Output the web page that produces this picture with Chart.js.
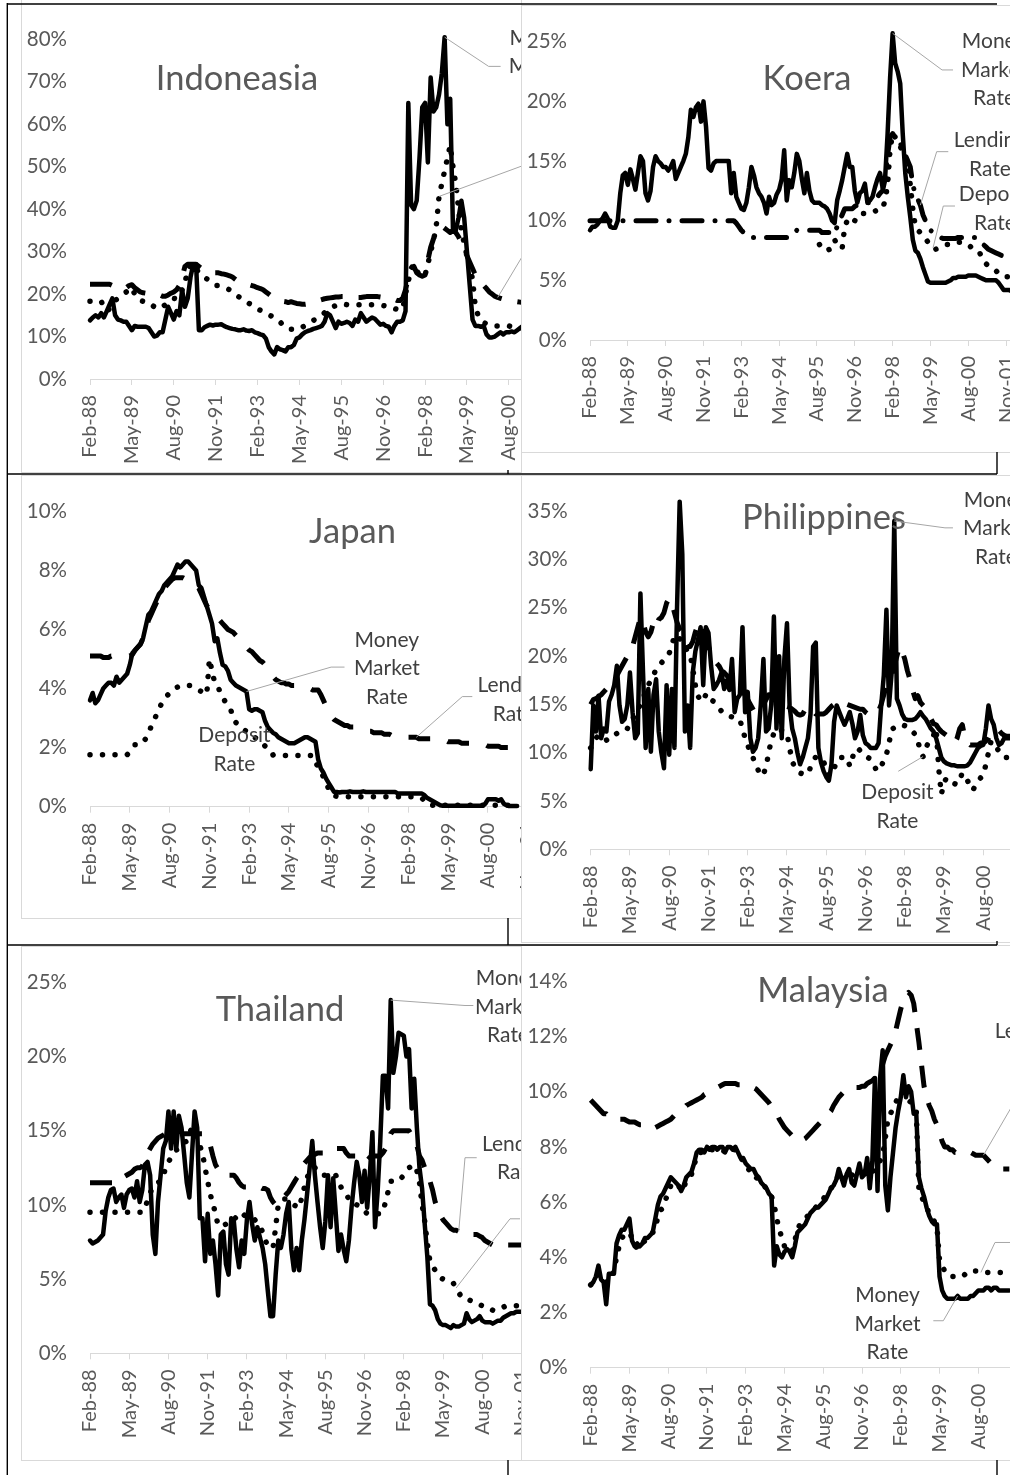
<!DOCTYPE html>
<html>
<head>
<meta charset="utf-8">
<title>Interest rates</title>
<script src="https://cdn.jsdelivr.net/npm/chart.js@4.4.1/dist/chart.umd.min.js"></script>
<style>
  html, body { margin: 0; padding: 0; background: #fff; overflow: hidden; }
  body { position: relative; width: 1010px; height: 1475px; }
  .panel { position: absolute; box-sizing: border-box; border: 1px solid #d9d9d9; background: #fff; overflow: hidden; }
  .panel canvas { position: absolute; }
  #frame { position: absolute; left: 0; top: 0; z-index: 10; pointer-events: none; }
</style>
</head>
<body>
<div class="panel" id="p-idn"><canvas id="c-idn"></canvas></div>
<div class="panel" id="p-kor"><canvas id="c-kor"></canvas></div>
<div class="panel" id="p-jpn"><canvas id="c-jpn"></canvas></div>
<div class="panel" id="p-phl"><canvas id="c-phl"></canvas></div>
<div class="panel" id="p-tha"><canvas id="c-tha"></canvas></div>
<div class="panel" id="p-mys"><canvas id="c-mys"></canvas></div>
<canvas id="frame" width="1010" height="1475"></canvas>
<script>
// ---- categories: monthly observations starting Feb-88, a tick label every 15 months ----
const MONTH_NAMES = ['Jan','Feb','Mar','Apr','May','Jun','Jul','Aug','Sep','Oct','Nov','Dec'];
const TICK_EVERY = 15;
function monthLabels(count) {
  const out = [];
  for (let k = 0; k < count; k++) {
    const m = (1 + k) % 12;
    const y = (88 + Math.floor((1 + k) / 12)) % 100;
    out.push(MONTH_NAMES[m] + '-' + String(y).padStart(2, '0'));
  }
  return out;
}
const SERIES_NAMES = ['Money Market Rate', 'Deposit Rate', 'Lending Rate'];

// ---- Indonesia (%) ----
const IDN_MMR = [13.8,14.5,15,14.5,15.5,14.5,16,17.5,19,15, 14,13.8,13.5,13.5,12.5,11.5,12.5,12.3,12.3,12.3,
  12.3,12,11,10,10.2,11,11,14,17,15.5, 14,16,15,21,17,19,24,27,27,11.5, 11.5,12.2,12.5,12.8,12.6,12.8,12.8,12.9,12.5,12.2,
  12,11.8,11.7,11.5,11.5,11.7,11.4,11.3,11.5,11, 10.8,10.5,10.3,9.5,7.5,6.5,5.8,7.5,7,6.8, 6.5,7.5,7.5,8,9.5,9.8,10.5,11,11.3,11.5,
  11.8,12,12.2,12.5,13.5,15.5,15,13.5,12,13.5, 13,13.2,13.5,13.2,12.5,14,13.5,15.5,14.5,13.5, 14,14.5,14.2,13.5,12.8,13,12.5,12.3,11,12.5,
  13.5,13.5,13.8,16,65,41,40,42,52,64, 65,51,71,63,64,67,72,80.5,60,66, 35,35,38,42,38,30,22,14,12.5,12.5,
  12.3,12.5,10.5,9.8,9.8,10,10.5,11,10.5,11, 11,11.2,11,11.5,12,12.5];
const IDN_DEP = [18.3,18.3,18.3,18.3,18.3,17,16,16.5,17.5,18.5, 19,19.5,20,20.5,21,21.5,20,19,18.5,18.3,
  18,18,17.5,17,16.6,16.6,17,17.5,18,18.5, 19,18.9,19.5,21,23,25,27,27,26,25, 24.5,24,23.5,23,22.5,22,22,21.8,21.5,21.3,
  21,20.5,20,19.5,19,18.5,18.3,17.8,17.3,16.8, 16.5,16.2,15.8,15.5,15.2,14.8,14.5,14,13.5,12.8, 12.2,11.8,11.7,11.7,11.7,11.8,12.2,12.6,13,13.4,
  13.8,14.2,14.6,15,15.6,16.2,16.6,17,17.3,17.6, 17.7,17.6,17.5,17.4,17.4,17.4,17.5,17.5,17.5,17.5, 17.5,17.5,17.5,17.4,17.3,17.3,17.2,17.2,17,16.6,
  16.4,16.3,16.5,20,23,26,27,25.5,24.5,24, 24.5,27,30,32.5,36,43,46,49,52,55, 50,46,40,35,32,29,26.5,23.5,17,15,
  14,13.3,13,12.8,12.5,12.5,12.5,12.5,12.5,12.5, 12.5,12.3,12.2,12,12,12];
const IDN_LEND = [22.3,22.3,22.3,22.3,22.3,22.3,22.3,22.3,22,22, 22,21.5,21.5,21.5,22,22.2,21.5,21,20.5,20.3,
  20.2,20,20,20,20,19.8,19.5,19.5,19.8,20.2, 20.5,21,22,24,26.5,27,27,27,27,26.5, 26,25.5,25.3,25.2,25,25,25,24.8,24.7,24.5,
  24.3,24,23.5,23,22.7,22.5,22.3,22.2,22,21.8, 21.5,21.3,21,20.5,20,19.5,19,18.8,18.5,18.3, 18.2,18,18.2,18,17.8,17.7,17.6,17.6,17.7,17.8,
  18,18.2,18.5,18.7,18.9,19,19.1,19.2,19.3,19.3, 19.4,19.4,19.4,19.3,19.2,19.2,19.2,19.2,19.3,19.4, 19.4,19.4,19.4,19.4,19.3,19.2,19.2,19.2,19,18.8,
  18.5,18.5,19,21,24,26,26.5,25,24.5,24.2, 24.5,28,31,33,34.5,35.5,36,35.5,35,34.5, 35,34.5,33.5,32,30.5,29,27.5,26,24.5,23.5,
  22.5,22,21.3,20.5,20,19.5,19.2,19,18.8,18.6, 18.5,18.4,18.3,18.2,18.1,18];

// ---- Korea (%) ----
const KOR_MMR = [9.2,9.5,9.5,9.7,10,10.2,10.6,10.2,9.5,9.4, 9.4,10,12.3,13.8,14,13,14.3,13.5,12.6,14,
  15.4,15,12.3,11.7,12.5,14.5,15.4,15,14.8,14.5, 14.5,14.2,14.5,15,13.5,14,14.5,15,15.6,17, 19.3,18.7,19.5,19.8,18.3,20,17.9,14.4,14.2,14.8,
  15,15,15,15,15,15,12.3,14,12,11.5, 11,10.9,11.5,12.8,14.5,13.8,12.8,12.3,12,11.5, 10.6,12,11.3,11.5,12.2,12.6,13.5,15.9,11.7,13.4,
  12.8,14,15.6,15,13.5,12.3,14,12.5,11.7,11.5, 11.5,11.5,11.3,11.2,11,10.6,10,9.8,11.7,12.5, 13.4,14.5,15.6,14.5,14.5,12.5,11.5,12.3,12.5,13.1,
  11.5,11.7,12,12.8,13.5,14,12.8,13.5,17.3,22, 25.7,23.2,22.5,21.5,17.3,14,12,10.3,8.4,7.5, 7.3,6.8,6.1,5.5,4.9,4.8,4.8,4.8,4.8,4.8,
  4.8,4.8,4.9,5,5.2,5.2,5.3,5.3,5.3,5.3, 5.4,5.4,5.4,5.4,5.3,5.2,5.1,5,5,5, 5,5,4.8,4.5,4.2,4.2,4.2,4.1];
const KOR_DEP = [...new Array(91).fill(null),
  8,7.7,7.5,7.5,7.6,8,8.4,8,7.7, 7.7,9.5,10,10.2,9.9,10,10.4,10.6,10.6,10.6,
  10.6,10.7,10.8,10.8,10.9,10.9,11,11.7,13,16, 17.3,17,16.5,16.2,15.8,15.3,15,13,11,9.5, 9.2,9,8.8,8.5,8.2,7.8,7.7,7.6,7.7,7.8,
  7.9,8,8,8.1,8.2,8.2,8.2,8.2,8.2,8.1, 8,7.8,7.7,7.6,7.5,7.1,6.6,6.4,6.2,6.1, 6,5.8,5.6,5.4,5.3,5.3,5.3,5.3];
const KOR_LEND = [10,10,10,10,10,10,10,10,10,10, 10,10,10,10,10,10,10,10,10,10,
  10,10,10,10,10,10,10,10,10,10, 10,10,10,10,10,10,10,10,10,10, 10,10,10,10,10,10,10,10,10,10,
  10,10,10,10,10,10,10,10,9.8,9.5, 9.2,9,8.8,8.6,8.6,8.6,8.6,8.6,8.6,8.6, 8.6,8.6,8.6,8.6,8.6,8.6,8.6,8.6,8.6,8.6,
  8.8,9,9.2,9.2,9.2,9.2,9.2,9.2,9.2,9.2, 9.2,9.2,9,9,9,9,8.8,9,9.5,10, 10.5,11,11,11,11,11.2,11.3,11.3,11.3,11.4,
  11.5,11.5,11.6,11.8,12,12.3,12.5,13.5,15.5,17, 17.3,17,16.8,16.5,16,15.5,15,14.5,13,12.2, 11.8,11.3,10.5,10,9.5,9.2,9,8.8,8.7,8.6,
  8.5,8.5,8.5,8.5,8.5,8.5,8.6,8.6,8.6,8.6, 8.6,8.6,8.6,8.6,8.5,8.3,8,7.8,7.6,7.5, 7.4,7.3,7.2,7.1,7,7,7,6.9];

// ---- Japan (%) ----
const JPN_MMR = [3.6,3.85,3.5,3.6,3.8,4,4.1,4.2,4.2,4.1, 4.4,4.2,4.3,4.4,4.5,4.8,5.2,5.3,5.4,5.5,
  5.7,6.1,6.5,6.6,6.8,7,7.2,7.3,7.5,7.6, 7.7,7.8,8,8.2,8.1,8.2,8.3,8.3,8.2,8.1, 8,7.5,7.4,7.1,6.8,6.5,6.2,5.6,5.7,5.2,
  4.8,4.75,4.6,4.3,4.2,4.1,4.05,4,3.95,3.9, 3.3,3.25,3.3,3.3,3.25,3.2,2.9,2.7,2.6,2.5, 2.45,2.35,2.3,2.25,2.2,2.15,2.15,2.15,2.2,2.25,
  2.3,2.35,2.35,2.3,2.25,2.2,1.6,1.3,1.15,0.95, 0.8,0.65,0.5,0.5,0.48,0.5,0.5,0.5,0.52,0.5, 0.5,0.5,0.5,0.52,0.5,0.5,0.5,0.5,0.5,0.5,
  0.5,0.5,0.5,0.5,0.5,0.5,0.45,0.45,0.45,0.45, 0.45,0.45,0.45,0.45,0.45,0.45,0.4,0.3,0.25,0.2, 0.15,0.1,0.05,0.03,0.03,0.03,0.03,0.03,0.03,0.03,
  0.03,0.03,0.03,0.03,0.03,0.03,0.03,0.03,0.03,0.1, 0.25,0.25,0.25,0.25,0.2,0.25,0.1,0.05,0.02,0.02, 0.02,0.02];
const JPN_DEP = [1.76,1.76,1.76,1.76,1.76,1.76,1.76,1.76,1.76,1.76, 1.76,1.76,1.76,1.76,1.76,1.85,2,2.1,2.1,2.1,
  2.2,2.3,2.5,2.7,2.9,3.1,3.3,3.5,3.65,3.75, 3.85,3.95,4,4.05,4.1,4.1,4.1,4.1,4.1,4.05, 4,3.95,3.9,3.85,3.8,5,4.6,4.2,4.1,3.9,
  3.7,3.55,3.4,3.3,3,2.85,2.75,2.7,2.6,2.55, 2.5,2.45,2.35,2.3,2.25,2.15,2.05,2,1.9,1.75, 1.73,1.73,1.73,1.73,1.73,1.73,1.73,1.73,1.73,1.73,
  1.73,1.73,1.73,1.73,1.73,1.5,1.35,1.2,1,0.8, 0.6,0.45,0.37,0.35,0.34,0.34,0.34,0.34,0.34,0.34, 0.34,0.34,0.34,0.34,0.34,0.34,0.34,0.34,0.34,0.34,
  0.34,0.34,0.34,0.34,0.34,0.34,0.34,0.34,0.34,0.34, 0.34,0.34,0.34,0.34,0.34,0.3,0.2,0.1,0.05,0.05, 0.05,0.05,0.05,0.05,0.05,0.05,0.05,0.05,0.05,0.05,
  0.05,0.05,0.05,0.05,0.05,0.05,0.05,0.05,0.05,0.05, 0.05,0.05,0.05,0.05,0.05,0.05,0.05,0.05,0.05,0.05, 0.05,0.05];
const JPN_LEND = [5.1,5.1,5.1,5.1,5.1,5.05,5.05,5.05,5.1,5.1, 5.1,5.1,5.1,5.1,5.1,5.1,5.15,5.3,5.4,5.5,
  5.7,6,6.3,6.5,6.7,6.9,7.1,7.2,7.4,7.5, 7.6,7.7,7.75,7.75,7.75,7.75,7.7,7.7,7.65,7.6, 7.5,7.4,7.2,7,6.8,6.7,6.6,6.5,6.4,6.3,
  6.2,6.1,6,5.95,5.9,5.8,5.7,5.6,5.5,5.4, 5.3,5.25,5.15,5.05,4.95,4.9,4.8,4.6,4.5,4.4, 4.3,4.25,4.2,4.2,4.15,4.15,4.1,4.1,4.05,4,
  4,4,4,4,3.95,3.95,3.95,3.8,3.6,3.4, 3.2,3.05,2.95,2.9,2.85,2.8,2.75,2.75,2.7,2.7, 2.7,2.65,2.65,2.6,2.6,2.55,2.55,2.5,2.5,2.5,
  2.5,2.45,2.45,2.45,2.4,2.4,2.4,2.35,2.35,2.35, 2.35,2.35,2.35,2.35,2.3,2.3,2.3,2.3,2.3,2.3, 2.3,2.25,2.25,2.25,2.25,2.2,2.2,2.2,2.2,2.2,
  2.15,2.15,2.15,2.15,2.15,2.1,2.1,2.1,2.1,2.1, 2.05,2.05,2.05,2.05,2.05,2,2,2,2,2, 2,2];

// ---- Philippines (%) ----
const PHL_MMR = [8.3,14.9,12.2,15.9,11.5,12.5,12.2,15.3,16,17, 19,14.9,13.2,13.5,14.9,18.3,14.2,11.5,12,26.5,
  18.3,10.5,16.6,10.1,16,17.6,12.2,10,8.4,17, 9.8,16.6,10.5,25.1,36,30.6,12.2,14.9,10.5,18.3, 20.5,21.7,23,17,23,22.4,19,16.6,17,17.5,
  18.3,16.6,17.5,16.5,19.7,14.2,15.6,16,23,14.2, 16.3,11.5,10.1,10.5,11.5,15,19.7,12.2,12.5,15, 24.1,12.5,20,11.5,19.7,23.4,14.9,12.5,11.5,10,
  8.8,9.5,10.5,11.5,14,21,21.4,10.5,9,8.1, 7.5,7.1,8.8,13.2,14.9,14.2,13.5,12.9,13.5,14.2, 13,11.5,12.2,13.9,11.8,11,10.8,10.5,10.5,10.5,
  11,14.9,18,24.8,14.9,18.3,34,15.6,14.9,14, 13.5,13.4,13.4,13.4,13.5,13.8,14.2,13.8,13.5,13, 12.5,12.2,11.5,10.5,9.5,9.1,8.9,8.8,8.7,8.7,
  8.6,8.6,8.6,8.6,8.7,9,9.5,10,10.5,10.7, 10.8,12.5,14.9,13.5,12.9,11.5,10.8,11,11.5,11.5, 11.5,11.5,11.5];
const PHL_DEP = [10.5,10.8,11.5,11.8,11.5,11.5,11.3,11.5,11.5,11.8, 12,12.2,12.3,12.5,12.5,13,13.5,14,14.5,15,
  15.5,16.5,17,17.5,18,18.7,19,19.3,19.6,19.8, 20.3,21,22.2,22,21.8,21.5,21,20.5,20.2,18.7, 17,15.9,15.3,15.5,16,16.1,15.5,15.3,14.9,14.6,
  14.3,14,13.9,13.8,13.7,13.6,13.5,13.4,12.5,11.5, 10.8,10,9.5,8.8,8.2,7.6,7.8,8.5,10,11.3, 12,12.5,12.4,12.3,12.1,12,10.5,9.1,8.5,8.2,
  7.9,7.8,7.8,7.8,8.5,9,9.6,9.6,9.4,9.1, 8.3,7.6,7.8,8.4,9,9.5,9.5,9.5,9.5,8.6, 9.5,10.2,10.5,10.2,9.9,9.8,9.5,9.3,8.8,8.3,
  8.1,8.6,9.2,9.8,11,12.4,12.6,12.8,12.9,12.9, 12.8,12.6,12.5,12.2,11.9,11.2,10.2,9.6,10.5,11, 11.6,11.8,12.5,8.3,5.7,6.9,7.4,7.2,7,6.8,
  6.7,7.2,7.9,7.5,7.1,6.6,6.1,6.6,7.1,7.4, 7.6,8.8,10,11.2,11,10.5,10.2,9.8,9.5,9.5, 9.3,9.2,9.2];
const PHL_LEND = [15,15.5,15.6,15.8,16,16.3,16.6,16.8,17,17.5, 18,18.5,19,19.5,20,20.5,21,22,23,24,
  23.5,22.5,22,22.5,23.5,23,23.8,24,24.5,25.5, 26,25.5,24.5,23.5,22.8,22.5,22,21,21,21.5, 22.5,23.3,23.5,22.5,21.5,21,20,19.5,19.3,19,
  18.5,18.3,18,17.7,17.5,17.2,17,16.6,16.3,16, 15.5,15,14.5,14,14,14.5,15,15.5,16,16, 15.5,15,15,15,14.9,14.8,14.7,14.5,14.3,14,
  13.9,14,14.5,14.8,14.5,14.3,14,14,14,14, 14.2,14.5,14.8,15,15.2,15.3,15.2,15,15,14.9, 14.8,14.7,14.6,14.5,14.5,14.2,14,14,13.9,14,
  14.3,15,16,17,17.5,18,19,20,21,20.5, 19.7,18.5,17.6,16.5,15.6,15.9,15.2,14.9,14.6,14, 13.5,13,12.9,12.5,12.2,12,11.8,11.5,11.2,11,
  11.5,12.5,12.9,11.5,11,10.8,10.8,10.8,10.8,11, 11,11.2,11.5,12,12.3,12.5,12.3,12,11.8,11.7, 11.7,11.7,11.7];

// ---- Thailand (%) ----
const THA_MMR = [7.6,7.4,7.5,7.6,7.8,8,9.6,10.5,11,11.1, 10.2,10.5,10.7,9.8,10.7,11,11.1,10.5,11.6,10.2,
  11,12.7,12.9,12,8,6.7,10.2,12,13.8,14.3, 16.3,13.8,16.3,13.8,16,15.2,13.4,11.5,10.5,13.4, 16.3,15.2,9.1,9.1,6.2,9.4,6.7,7.6,6,3.9,
  8,8.2,6,5.3,9.1,8.9,7,5.8,7.6,6.7, 9,10.2,8.7,7.6,8.5,7.8,7.1,6,4.2,2.5, 2.5,5.3,7.6,7.1,8,9.4,10.2,7,5.6,7.1,
  5.6,7.6,9,10.7,12.5,14.3,12,10.2,8.5,7.1, 8.9,12,8.5,11.8,9.4,6.9,8,7,6.2,7.6, 9.8,11.5,12.9,12,10.2,12.3,9.8,12,14.9,8.5,
  10.9,14.3,18.7,18.7,16.5,23.8,18.9,20,21.6,21.5, 21.4,20,20.5,16.5,18.5,15.2,12.5,11.1,8.7,6.5, 3.3,3.2,2.9,2.3,2,1.9,1.9,1.8,1.7,1.9,
  1.8,1.8,1.9,2,2.7,2.3,2.1,2.2,2.3,2.5, 2.2,2.1,2.1,2.1,2,2.1,2.2,2.2,2.4,2.5, 2.6,2.7,2.7,2.8,2.8,2.8,2.8];
const THA_DEP = [9.5,9.5,9.5,9.5,9.5,9.5,9.5,9.5,9.5,9.5, 9.5,9.5,9.5,9.5,9.5,9.5,9.5,9.5,9.5,9.5,
  9.5,9.8,10.3,10.8,11.2,11.4,11.5,11.6,12,12.5, 12.9,13.2,13.5,13.7,13.8,14,14.2,14.3,14.8,15.2, 15,14.5,14,13.5,12.5,11.6,10.7,10.1,9.4,8.6,
  8.6,8.6,8.7,8.7,8.8,9,9.2,9.4,9.5,9.3, 9.1,9,9,9,8.8,8.5,8.2,7.6,7.3,7.1, 7.1,8.5,10,10.2,10.4,10.4,10.3,10.1,10,9.9,
  9.8,10.5,11.2,11.8,12.3,12.5,12.5,12.3,12.1,12, 12,12.1,12.1,12.1,12,11.6,11.2,10.9,10.7,10.4, 10.2,10,10,9.9,9.8,9.6,9.4,9.4,9.4,9.4,
  9.4,9.4,9.5,10.2,10.9,11.6,11.6,11.6,11.6,11.8, 12,12.3,12.5,12.6,12.7,12.3,11.5,10,8.9,7.4, 6.2,5.9,5.6,5.3,5.1,5,4.9,4.8,4.8,4.7,
  4.4,4.1,3.8,3.7,3.6,3.6,3.5,3.5,3.4,3.3, 3.2,3.1,3.1,3,2.9,2.9,3,3.1,3.1,3.2, 3.2,3.2,3.2,3.2,3.2,3.2,3.2];
const THA_LEND = [11.5,11.5,11.5,11.5,11.5,11.5,11.5,11.5,11.5,11.5, 11.5,11.5,11.7,11.9,12,12.1,12.2,12.4,12.5,12.5,
  12.6,13.1,13.5,13.8,14.1,14.3,14.5,14.6,14.7,14.8, 14.8,14.8,14.8,14.8,14.8,14.8,14.8,14.8,14.8,14.8, 14.8,14.8,14.8,14.8,14.6,14.3,14,13.3,12.7,12.4,
  12.2,12,12,12,12,12,11.8,11.5,11.3,11.2, 11.2,11.2,11.2,11.2,11.2,11.2,11.1,11.1,11,10.5, 10.2,10,10,10.2,10.5,10.7,10.9,11.2,11.5,11.8,
  12,12.5,12.8,13,13.2,13.3,13.4,13.5,13.5,13.5, 13.5,13.6,13.8,13.8,13.8,13.8,13.8,13.8,13.5,13.3, 13.3,13.3,13.3,13.2,13,12.9,13,13.2,13.3,13.3,
  13.3,13.3,13.5,13.8,14.2,14.8,15,15,15,15, 15,15,15,14.7,14.5,14,13.3,13,12.5,12, 11.6,11,10.2,9.7,9.3,9,8.8,8.6,8.4,8.3,
  8.3,8.2,8.1,8,8,8,8,8,8,7.9, 7.8,7.6,7.5,7.4,7.3,7.3,7.3,7.3,7.3,7.3, 7.3,7.3,7.3,7.3,7.3,7.3,7.3];

// ---- Malaysia (%) ----
const MYS_MMR = [3,3.1,3.3,3.7,3.2,3.1,2.3,3.4,3.4,3.4, 4.5,4.8,5,5,5.2,5.4,4.6,4.4,4.5,4.4,
  4.5,4.7,4.7,4.8,4.9,5.4,5.9,6.2,6.3,6.5, 6.7,6.9,6.8,6.7,6.6,6.4,6.6,6.9,7,7.1, 7.4,7.8,7.9,7.9,7.8,8,7.9,8,8,7.9,
  8,8,7.8,8,8,7.9,8,7.8,7.6,7.6, 7.4,7.3,7.2,7.2,7,6.9,6.7,6.6,6.5,6.3, 6.2,3.7,4.4,4.1,4,4.2,4.3,4.2,4,4.4,
  4.9,5,5.1,5.2,5.4,5.6,5.7,5.8,5.8,5.9, 6,6.1,6.3,6.5,6.6,6.8,7.2,6.9,6.6,7, 7.2,6.7,6.6,7,7.4,6.9,7,7.6,6.5,7.5,
  10.5,6.4,10.5,11.5,6.6,5.7,6.9,7.8,8.7,9.3, 9.8,10.6,9.8,10.2,10,9.2,9.2,6.9,6.5,6.2, 5.8,5.5,5.3,5.2,5.2,3.3,2.8,2.6,2.5,2.5,
  2.5,2.5,2.6,2.5,2.5,2.5,2.5,2.6,2.6,2.7, 2.8,2.8,2.8,2.9,2.9,2.8,2.9,2.9,2.8,2.8, 2.8,2.8,2.8];
const MYS_DEP = [3,3.1,3.2,3.4,3.3,3.2,3.1,3.3,3.3,3.5, 4,4.4,4.7,4.8,4.9,4.9,4.7,4.5,4.3,4.4,
  4.5,4.6,4.7,4.8,4.9,5,5.5,5.7,5.8,6.1, 6.3,6.6,6.7,6.7,6.6,6.4,6.5,6.8,6.9,7, 7.3,7.7,7.8,7.8,7.8,7.9,7.9,7.9,7.9,7.9,
  7.9,7.9,7.8,7.9,7.9,7.9,7.9,7.8,7.6,7.5, 7.3,7.2,7.1,7.1,6.9,6.8,6.7,6.6,6.5,6.3, 6.2,5.9,5.4,5,4.7,4.4,4.3,4.2,4.2,4.6,
  5,5.2,5.3,5.4,5.5,5.6,5.7,5.8,5.9,6, 6.1,6.3,6.4,6.5,6.6,6.8,7,6.9,6.8,7, 7.1,7,6.9,7,7.2,7,7.1,7.2,7,7.1,
  7.2,7.3,7.5,7.7,8.3,9,9.2,9.4,9.6,9.8, 10,10,9.8,9.7,9.6,9.5,9.3,6.5,6.2,6, 5.8,5.6,5.5,5.3,5.1,3.9,3.7,3.5,3.4,3.4,
  3.3,3.3,3.3,3.3,3.3,3.4,3.4,3.5,3.5,3.5, 3.5,3.45,3.45,3.45,3.45,3.45,3.45,3.45,3.45,3.45, 3.45,3.45,3.45];
const MYS_LEND = [9.7,9.6,9.5,9.4,9.3,9.2,9.2,9.1,9.1,9.1, 9.1,9,9,9,8.95,8.9,8.9,8.9,8.85,8.8,
  8.8,8.75,8.7,8.65,8.65,8.7,8.75,8.8,8.85,8.9, 8.95,9,9.1,9.2,9.3,9.35,9.4,9.5,9.55,9.6, 9.65,9.7,9.75,9.8,9.9,9.95,10,10.05,10.1,10.15,
  10.2,10.25,10.3,10.3,10.3,10.3,10.3,10.25,10.25,10.25, 10.2,10.2,10.2,10.15,10.1,10,9.9,9.8,9.7,9.6, 9.45,9.3,9.2,9,8.85,8.7,8.6,8.5,8.4,8.3,
  8.25,8.2,8.25,8.3,8.4,8.5,8.6,8.7,8.8,8.9, 9,9.1,9.2,9.3,9.5,9.65,9.8,9.9,10,10.1, 10.15,10.15,10.15,10.15,10.15,10.2,10.2,10.3,10.35,10.4,
  10.5,10.6,10.8,11,11.3,11.5,11.7,11.9,12.2,12.6, 13,13.3,13.5,13.6,13.5,13.2,12.5,11.8,11,10.2, 9.8,9.5,9.3,9,8.8,8.5,8.2,8,8,7.9,
  7.9,7.8,7.8,7.8,7.8,7.8,7.8,7.8,7.75,7.7, 7.7,7.7,7.7,7.6,7.5,7.4,7.3,7.25,7.2,7.2, 7.2,7.2,7.2];

// ---- panel layout (page pixels) and callout placement relative to their data point ----
const MMR_LINES = ['Money', 'Market', 'Rate'];
const PANELS = [
  { id: 'idn', title: 'Indoneasia', titleAt: [237, 90], data: [IDN_MMR, IDN_DEP, IDN_LEND], max: 80, step: 10, n: 168,
    box: [21, -10, 501, 483], canvas: [22, 4, 467], x0: 90, yTop: 34, yBottom: 379, p: 2.827,
    lendDash: [22, 16], lendCap: 'butt',
    callouts: [
      { ds: 0, i: 127, lines: MMR_LINES, path: [[44, 29.2], [56, 29.2]], at: [97, 29.2] },
      { ds: 1, i: 125, lines: ['Deposit', 'Rate'], path: [[97, -35.6], [107, -35.6]], at: [147, -35.6] },
      { ds: 2, i: 146, lines: ['Lending', 'Rate'], path: [[25.3, -42.2], [35, -42.2]], at: [75, -42.2] } ] },
  { id: 'kor', title: 'Koera', titleAt: [807, 90], data: [KOR_MMR, KOR_DEP, KOR_LEND], max: 25, step: 5, n: 180,
    box: [521, 5, 600, 448], canvas: [522, 6, 445], x0: 590, yTop: 41.7, yBottom: 340, p: 2.522,
    lendDash: [20, 13, 0.01, 13], lendCap: 'round',
    callouts: [
      { ds: 0, i: 120, lines: MMR_LINES, path: [[49.4, 36.6], [60.4, 36.6]], at: [101.4, 36.6] },
      { ds: 2, i: 131, lines: ['Lending', 'Rate'], path: [[16.3, -53.5], [27.9, -53.5]], at: [69.6, -50.2] },
      { ds: 1, i: 136, lines: ['Deposit', 'Rate'], path: [[10.3, -42.1], [22, -42.1]], at: [62, -39.6] } ] },
  { id: 'jpn', title: 'Japan', titleAt: [352.5, 543], data: [JPN_MMR, JPN_DEP, JPN_LEND], max: 10, step: 2, n: 168,
    box: [21, 475, 501, 444], canvas: [22, 476, 441], x0: 90, yTop: 495, yBottom: 806.7, p: 2.689,
    lendDash: [22, 18], lendCap: 'butt',
    callouts: [
      { ds: 0, i: 59, lines: MMR_LINES, path: [[84.6, -24.4], [98, -24.4]], at: [140.3, -23.1] },
      { ds: 1, i: 56, lines: ['Deposit', 'Rate'], path: [], at: [-4.1, 24.5] },
      { ds: 2, i: 123, lines: ['Lending', 'Rate'], path: [[46, -40.7], [56, -40.7]], at: [97.3, -37.4] } ] },
  { id: 'phl', title: 'Philippines', titleAt: [824, 529], data: [PHL_MMR, PHL_DEP, PHL_LEND], max: 35, step: 5, n: 180,
    box: [521, 475, 600, 468], canvas: [522, 476, 465], x0: 590.7, yTop: 506.7, yBottom: 849.3, p: 2.617,
    lendDash: [22, 16], lendCap: 'butt',
    callouts: [
      { ds: 0, i: 116, lines: MMR_LINES, path: [[50.7, 6.9], [58.7, 6.9]], at: [101.7, 7.6] },
      { ds: 1, i: 127, lines: ['Deposit', 'Rate'], path: [[-24.8, 14.7]], at: [-25.6, 50.1] } ] },
  { id: 'tha', title: 'Thailand', titleAt: [280, 1021], data: [THA_MMR, THA_DEP, THA_LEND], max: 25, step: 5, n: 180,
    box: [21, 946, 501, 515], canvas: [22, 947, 512], x0: 90, yTop: 979.3, yBottom: 1353.3, p: 2.615,
    lendDash: [22, 16], lendCap: 'butt',
    callouts: [
      { ds: 0, i: 115, lines: MMR_LINES, path: [[74.3, 5.4], [82.6, 5.4]], at: [117.3, 6.7] },
      { ds: 2, i: 141, lines: ['Lending', 'Rate'], path: [[6.3, -73.9], [18, -73.9]], at: [59.3, -73.6] },
      { ds: 1, i: 140, lines: ['Deposit', 'Rate'], path: [[53.9, -69.2], [63.9, -69.2]], at: [104, -69.2] } ] },
  { id: 'mys', title: 'Malaysia', titleAt: [823, 1002], data: [MYS_MMR, MYS_DEP, MYS_LEND], max: 14, step: 2, n: 180,
    box: [521, 945, 600, 516], canvas: [522, 946, 513], x0: 590.7, yTop: 971, yBottom: 1367.7, p: 2.584,
    lendDash: [22, 16], lendCap: 'butt',
    callouts: [
      { ds: 2, i: 152, lines: ['Lending', 'Rate'], path: [[47.5, -81.6]], at: [47.5, -109.6] },
      { ds: 0, i: 142, lines: MMR_LINES, path: [[-14.3, 24.8], [-24.3, 24.8]], at: [-70.1, 27.8] },
      { ds: 1, i: 151, lines: ['Deposit', 'Rate'], path: [[14.1, -30], [34.1, -30]], at: [74, -30] } ] }
];

// Panel title plus data callouts with grey leader lines
const panelText = {
  id: 'panelText',
  afterDatasetsDraw(chart, args, opts) {
    const ctx = chart.ctx;
    ctx.save();
    ctx.fillStyle = '#595959';
    ctx.font = '34.5px Lato';
    ctx.textAlign = 'center';
    ctx.textBaseline = 'alphabetic';
    ctx.fillText(opts.title, opts.titleX, opts.titleY);
    ctx.font = '21px Lato';
    ctx.textBaseline = 'middle';
    opts.callouts.forEach(c => {
      const el = chart.getDatasetMeta(c.ds).data[c.i];
      if (!el) return;
      const ax = el.x, ay = el.y;
      if (c.path.length) {
        ctx.beginPath();
        ctx.moveTo(ax, ay);
        c.path.forEach(([dx, dy]) => ctx.lineTo(ax + dx, ay + dy));
        ctx.strokeStyle = '#a6a6a6';
        ctx.lineWidth = 1;
        ctx.stroke();
      }
      ctx.fillStyle = '#404040';
      const n = c.lines.length;
      c.lines.forEach((t, k) => ctx.fillText(t, ax + c.at[0], ay + c.at[1] + (k - (n - 1) / 2) * 28.5));
    });
    ctx.restore();
  }
};

function drawPanel(P) {
  const [bl, bt, bw, bh] = P.box;
  const box = document.getElementById('p-' + P.id);
  Object.assign(box.style, { left: bl + 'px', top: bt + 'px', width: bw + 'px', height: bh + 'px', zIndex: bl > 300 ? 2 : 1 });
  const [cx, cy, ch] = P.canvas;
  const yW = P.x0 - cx;
  const plotW = (P.n - 1) * P.p;
  const cw = Math.ceil(yW + plotW + 22);
  const padRight = cw - yW - plotW;
  const xH = cy + ch - P.yBottom;
  const cvs = document.getElementById('c-' + P.id);
  cvs.width = cw; cvs.height = ch;
  cvs.style.width = cw + 'px'; cvs.style.height = ch + 'px';
  cvs.style.left = (cx - bl - 1) + 'px';
  cvs.style.top = (cy - bt - 1) + 'px';

  const common = { borderColor: '#000', pointRadius: 0, pointHoverRadius: 0, tension: 0, fill: false, clip: false };
  new Chart(cvs, {
    type: 'line',
    data: {
      labels: monthLabels(P.n),
      datasets: [
        Object.assign({ label: SERIES_NAMES[0], data: P.data[0], borderWidth: 4.5, borderJoinStyle: 'round', borderCapStyle: 'round' }, common),
        Object.assign({ label: SERIES_NAMES[1], data: P.data[1], borderWidth: 5.5, borderDash: [0.01, 12.5], borderCapStyle: 'round', borderJoinStyle: 'round' }, common),
        Object.assign({ label: SERIES_NAMES[2], data: P.data[2], borderWidth: 5, borderDash: P.lendDash, borderCapStyle: P.lendCap, borderJoinStyle: 'round' }, common)
      ]
    },
    options: {
      responsive: false,
      animation: false,
      devicePixelRatio: 1,
      events: [],
      layout: { padding: { left: 0, right: padRight, top: P.yTop - cy, bottom: 0 } },
      plugins: {
        legend: { display: false },
        tooltip: { enabled: false },
        panelText: { title: P.title, titleX: P.titleAt[0] - cx, titleY: P.titleAt[1] - cy, callouts: P.callouts }
      },
      scales: {
        x: {
          type: 'category',
          offset: false,
          grid: { display: true, drawOnChartArea: false, drawTicks: true, tickLength: 6, color: '#d9d9d9', lineWidth: 1 },
          border: { display: true, color: '#d9d9d9', width: 1 },
          ticks: {
            autoSkip: false, minRotation: 90, maxRotation: 90, padding: 10,
            color: '#595959', font: { family: 'Lato', size: 20 },
            callback(v) { return this.getLabelForValue(v); }
          },
          afterBuildTicks(ax) { ax.ticks = ax.ticks.filter(t => t.value % TICK_EVERY === 0); },
          afterFit(ax) { ax.height = xH; }
        },
        y: {
          min: 0, max: P.max,
          grid: { display: false, drawTicks: false },
          border: { display: false },
          ticks: { stepSize: P.step, padding: 23, color: '#595959', font: { family: 'Lato', size: 20.5 }, callback: v => v + '%' },
          afterFit(ax) { ax.width = yW; }
        }
      }
    },
    plugins: [panelText]
  });
}

PANELS.forEach(drawPanel);

// Black table rules around the six panels
const FRAME_LINES = [[7, 4, 997, 4], [7.3, 3, 7.3, 1475], [7, 474, 997, 474], [997, 452, 997, 474], [508, 470, 508, 474],
  [508, 918, 508, 945], [7, 945, 997, 945], [997, 941, 997, 945], [508, 1460, 508, 1475], [997, 1460, 997, 1475]];
(function drawFrame() {
  const ctx = document.getElementById('frame').getContext('2d');
  ctx.strokeStyle = '#000';
  ctx.lineWidth = 1.4;
  FRAME_LINES.forEach(([x1, y1, x2, y2]) => {
    ctx.beginPath(); ctx.moveTo(x1, y1); ctx.lineTo(x2, y2); ctx.stroke();
  });
})();
</script>
</body>
</html>
